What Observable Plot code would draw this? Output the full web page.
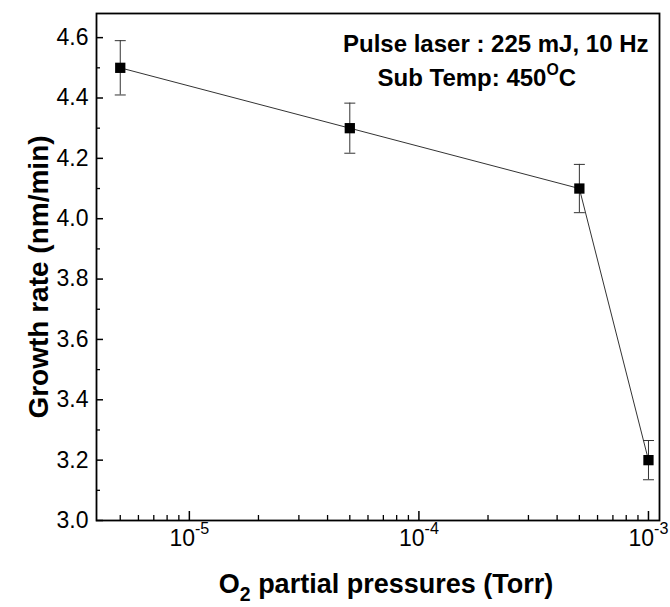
<!DOCTYPE html>
<html><head><meta charset="utf-8">
<script src="https://cdn.jsdelivr.net/npm/d3@7"></script>
<script src="https://cdn.jsdelivr.net/npm/@observablehq/plot@0.6"></script>
<style>body{margin:0;background:#fff} svg{display:block}</style>
</head><body><div id="chart"></div>
<script>
// ---- data ----
const pressures = [5e-6, 5e-5, 5e-4, 1e-3];           // Torr
const growthRates = [4.50, 4.30, 4.10, 3.20];         // nm/min
const errors = [0.09, 0.083, 0.08, 0.065];            // ± error
const xMajorTicks = [1e-5, 1e-4, 1e-3];
const xMinorTicks = [5e-6, 6e-6, 7e-6, 8e-6, 9e-6,
  2e-5, 3e-5, 4e-5, 5e-5, 6e-5, 7e-5, 8e-5, 9e-5,
  2e-4, 3e-4, 4e-4, 5e-4, 6e-4, 7e-4, 8e-4, 9e-4];
const yMajorTicks = [3.0, 3.2, 3.4, 3.6, 3.8, 4.0, 4.2, 4.4, 4.6];
const yMinorTicks = [3.1, 3.3, 3.5, 3.7, 3.9, 4.1, 4.3, 4.5];
const xLabel = "O_{2} partial pressures (Torr)";
const yLabel = "Growth rate (nm/min)";
const noteLaser = "Pulse laser : 225 mJ, 10 Hz";
const noteTemp = "Sub Temp: 450^{O}C";

// ---- layout ----
const W = 670, H = 607, mL = 96, mR = 11, mT = 13, mB = 87;
const frameW = W - mL - mR, frameH = H - mT - mB;

const data = pressures.map((p, i) => ({
  p, g: growthRates[i], lo: growthRates[i] - errors[i], hi: growthRates[i] + errors[i]
}));
const capSymbol = {draw(ctx, size) {const r = Math.sqrt(size / Math.PI); ctx.moveTo(-r, 0); ctx.lineTo(r, 0);}};

const plot = Plot.plot({
  width: W, height: H,
  marginLeft: mL, marginRight: mR, marginTop: mT, marginBottom: mB,
  style: {fontFamily: "'Liberation Sans', Arial, sans-serif", background: "#fff", color: "#000"},
  x: {type: "log", domain: [3.94e-6, 1.117e-3], axis: null},
  y: {domain: [3.0, 4.68], axis: null},
  marks: [
    Plot.tickX(xMinorTicks, {x: d => d, insetTop: frameH - 5, stroke: "#000", strokeWidth: 1.3}),
    Plot.tickX(xMajorTicks, {x: d => d, insetTop: frameH - 9, stroke: "#000", strokeWidth: 1.5}),
    Plot.tickY(yMinorTicks, {y: d => d, insetRight: frameW - 4, stroke: "#000", strokeWidth: 1.3}),
    Plot.tickY(yMajorTicks, {y: d => d, insetRight: frameW - 7, stroke: "#000", strokeWidth: 1.5}),
    Plot.ruleX(data, {x: "p", y1: "lo", y2: "hi", stroke: "#333", strokeWidth: 1}),
    Plot.dot(data, {x: "p", y: "lo", symbol: capSymbol, r: 5.5, stroke: "#333", fill: "none", strokeWidth: 1}),
    Plot.dot(data, {x: "p", y: "hi", symbol: capSymbol, r: 5.5, stroke: "#333", fill: "none", strokeWidth: 1}),
    Plot.line(data, {x: "p", y: "g", stroke: "#333", strokeWidth: 1}),
    Plot.dot(data, {x: "p", y: "g", symbol: "square", r: 5.8, fill: "#000", stroke: "none"}),
    Plot.frame({stroke: "#000", strokeWidth: 1.8}),
    Plot.text(yMajorTicks, {y: d => d, frameAnchor: "left", text: d => d.toFixed(1), textAnchor: "end", dx: -8, fontSize: 23}),
    Plot.text(xMajorTicks, {x: d => d, frameAnchor: "bottom", text: d => `10^{${Math.round(Math.log10(d))}}`, lineAnchor: "bottom", dy: 25, fontSize: 23}),
    Plot.text([xLabel], {frameAnchor: "bottom", text: d => d, textAnchor: "middle", lineAnchor: "bottom", dx: 8, dy: 72, fontSize: 27, fontWeight: "bold"}),
    Plot.text([yLabel], {frameAnchor: "left", text: d => d, rotate: -90, textAnchor: "middle", lineAnchor: "bottom", dx: -49, dy: 10, fontSize: 28, fontWeight: "bold"}),
    Plot.text([noteLaser], {frameAnchor: "top-right", text: d => d, textAnchor: "end", lineAnchor: "bottom", dx: -11, dy: 38, fontSize: 24, fontWeight: "bold"}),
    Plot.text([noteTemp], {frameAnchor: "top-left", text: d => d, textAnchor: "start", lineAnchor: "bottom", dx: 281, dy: 72, fontSize: 24, fontWeight: "bold"})
  ]
});
document.getElementById("chart").appendChild(plot);

// rich text: ^{..} superscript, _{..} subscript
const NS = "http://www.w3.org/2000/svg";
d3.select(plot).selectAll("text").each(function() {
  const s = this.textContent;
  if (!/[\^_]\{/.test(s)) return;
  const base = parseFloat(getComputedStyle(this).fontSize) || 20;
  const parts = []; const re = /([\^_])\{([^}]*)\}/g; let last = 0, m;
  while ((m = re.exec(s))) {
    if (m.index > last) parts.push({t: s.slice(last, m.index)});
    parts.push({t: m[2], k: m[1]});
    last = re.lastIndex;
  }
  if (last < s.length) parts.push({t: s.slice(last)});
  this.textContent = "";
  const isExp = s.startsWith("10^");
  let shift = 0;
  for (const p of parts) {
    const ts = document.createElementNS(NS, "tspan");
    let target = 0;
    if (p.k === "^") {
      target = isExp ? -0.5 * base : -0.42 * base;
      ts.setAttribute("font-size", (isExp ? 0.7 : 0.66) * base);
    } else if (p.k === "_") {
      target = 0.3 * base;
      ts.setAttribute("font-size", 0.72 * base);
    }
    if (target - shift !== 0) ts.setAttribute("dy", target - shift);
    shift = target;
    ts.textContent = p.t;
    this.appendChild(ts);
  }
});
</script>
</body></html>
